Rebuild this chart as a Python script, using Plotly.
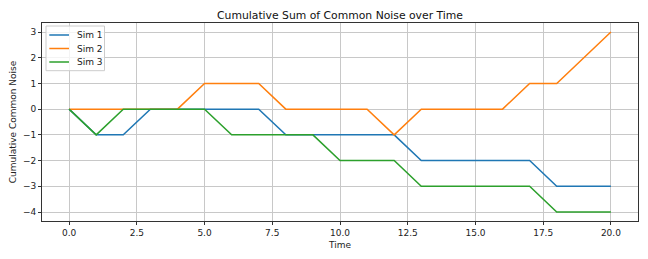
import plotly.graph_objects as go

time = list(range(21))
sim1 = [0, -1, -1, 0, 0, 0, 0, 0, -1, -1, -1, -1, -1, -2, -2, -2, -2, -2, -3, -3, -3]
sim2 = [0, 0, 0, 0, 0, 1, 1, 1, 0, 0, 0, 0, -1, 0, 0, 0, 0, 1, 1, 2, 3]
sim3 = [0, -1, 0, 0, 0, 0, -1, -1, -1, -1, -2, -2, -2, -3, -3, -3, -3, -3, -4, -4, -4]
names = ["Sim 1", "Sim 2", "Sim 3"]
colors = ["#1f77b4", "#ff7f0e", "#2ca02c"]
x_ticks = [0, 2.5, 5, 7.5, 10, 12.5, 15, 17.5, 20]
x_ticklabels = ["0.0", "2.5", "5.0", "7.5", "10.0", "12.5", "15.0", "17.5", "20.0"]
y_ticks = [-4, -3, -2, -1, 0, 1, 2, 3]
y_ticklabels = ["\u22124", "\u22123", "\u22122", "\u22121", "0", "1", "2", "3"]

fig = go.Figure()
for name, ys, c in zip(names, [sim1, sim2, sim3], colors):
    fig.add_trace(go.Scatter(x=time, y=ys, mode="lines", name=name,
                             line=dict(color=c, width=1.5), showlegend=False))

font = "DejaVu Sans"
W, H = 640, 251  # page body has an 8px default margin
ML, MR, MT, MB = 34, 10, 15, 38
PW, PH = W - ML - MR, H - MT - MB


def px(x):  # plot-area pixel offset -> paper x
    return x / PW


def py(y):  # pixel offset from plot top -> paper y
    return 1 - y / PH


# compact legend (matplotlib-style) drawn in paper coordinates
shapes = [dict(type="rect", xref="paper", yref="paper",
               x0=px(4), x1=px(62.5), y0=py(47.7), y1=py(3),
               line=dict(color="#cccccc", width=1), fillcolor="rgba(255,255,255,0.8)",
               layer="above")]
annotations = []
for i, (name, c) in enumerate(zip(names, colors)):
    yy = py(12 + 13.5 * i)
    shapes.append(dict(type="line", xref="paper", yref="paper",
                       x0=px(7.3), x1=px(27), y0=yy, y1=yy,
                       line=dict(color=c, width=1.5), layer="above"))
    annotations.append(dict(text=name, xref="paper", yref="paper", x=px(33), y=yy,
                            xanchor="left", yanchor="middle", showarrow=False,
                            font=dict(family=font, size=9, color="#222222")))

axis_common = dict(showline=True, linecolor="#333333", linewidth=1, mirror=True,
                   showgrid=True, gridcolor="#c8c8c8", gridwidth=1, zeroline=False,
                   ticks="outside", ticklen=3, tickcolor="#333333", automargin=False,
                   tickfont=dict(family=font, size=9, color="#222222"))

fig.update_layout(
    width=W, height=H,
    margin=dict(l=ML, r=MR, t=MT, b=MB),
    paper_bgcolor="white", plot_bgcolor="white",
    title=dict(text="Cumulative Sum of Common Noise over Time", x=0.5, xanchor="center",
               xref="paper", y=1 - 7 / H, yanchor="middle", automargin=False,
               font=dict(family=font, size=10.8, color="#111111")),
    xaxis=dict(range=[-1, 21], tickvals=x_ticks, ticktext=x_ticklabels,
               title=dict(text="Time", font=dict(family=font, size=9, color="#222222"), standoff=4),
               **axis_common),
    yaxis=dict(range=[-4.35, 3.35], tickvals=y_ticks, ticktext=y_ticklabels,
               title=dict(text="Cumulative Common Noise", font=dict(family=font, size=9, color="#222222"), standoff=6),
               **axis_common),
    shapes=shapes,
    annotations=annotations,
    showlegend=False,
)

fig.write_html("out.html")
